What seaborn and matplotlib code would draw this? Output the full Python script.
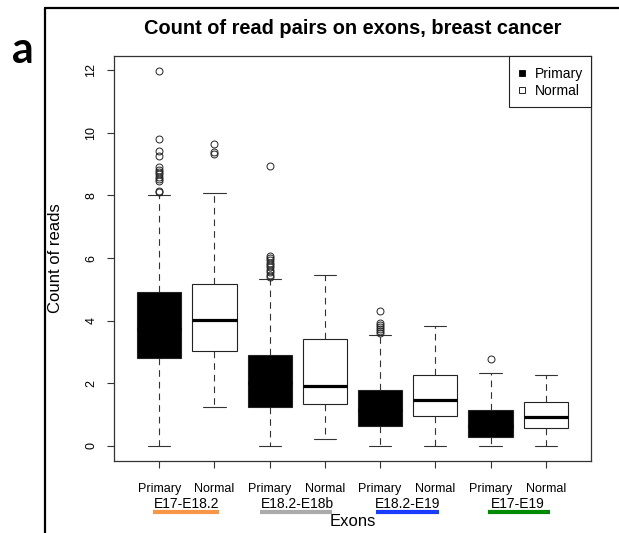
import matplotlib
matplotlib.use("Agg")
import matplotlib.pyplot as plt
import matplotlib.transforms as mtransforms
from matplotlib.lines import Line2D
from matplotlib.patches import Rectangle
import seaborn as sns

# ---------------- data ----------------
groups = ["E17-E18.2", "E18.2-E18b", "E18.2-E19", "E17-E19"]
conditions = ["Primary", "Normal"]
q1 = [2.80, 3.04, 1.26, 1.33, 0.63, 0.95, 0.29, 0.59]
medians = [3.75, 4.02, 2.00, 1.90, 1.15, 1.46, 0.65, 0.92]
q3 = [4.91, 5.18, 2.89, 3.43, 1.80, 2.28, 1.15, 1.42]
whisker_low = [0.00, 1.26, 0.00, 0.22, 0.00, 0.00, 0.00, 0.00]
whisker_high = [8.00, 8.08, 5.33, 5.47, 3.53, 3.82, 2.34, 2.26]
outliers = [
    [11.97, 9.79, 9.42, 9.25, 8.90, 8.82, 8.75, 8.68, 8.60, 8.52, 8.45, 8.15, 8.10],
    [9.63, 9.38, 9.31],
    [8.95, 6.08, 6.01, 5.93, 5.85, 5.78, 5.70, 5.62, 5.55, 5.47, 5.40],
    [],
    [4.30, 3.92, 3.85, 3.79, 3.72, 3.66, 3.60],
    [],
    [2.77],
    [],
]
y_ticks = [0, 2, 4, 6, 8, 10, 12]

# ---------------- style ----------------
sns.set_style("white")
plt.rcParams["font.family"] = ["Liberation Sans", "DejaVu Sans"]
plt.rcParams["text.color"] = "black"
plt.rcParams["axes.labelcolor"] = "black"
plt.rcParams["xtick.color"] = "black"
plt.rcParams["ytick.color"] = "black"

group_colors = ["#F79646", "#ABABAB", "#1A3CFF", "#008A00"]
underline_half = [0.60, 0.65, 0.57, 0.56]
underline_shift = [-0.02, -0.03, 0.0, 0.01]

W, H = 619, 533
fig = plt.figure(figsize=(W / 100, H / 100), dpi=100)
ax = fig.add_axes([114 / W, (H - 461) / H, (591 - 114) / W, (461 - 56) / H])

stats = []
labels = []
for i in range(len(q1)):
    stats.append(dict(med=medians[i], q1=q1[i], q3=q3[i],
                      whislo=whisker_low[i], whishi=whisker_high[i],
                      fliers=outliers[i]))
    labels.append(conditions[i % 2])

positions = list(range(1, len(stats) + 1))
bp = ax.bxp(stats, positions=positions, widths=0.8, capwidths=0.4,
            patch_artist=True, showfliers=True,
            boxprops=dict(edgecolor="#222222", linewidth=0.8),
            medianprops=dict(color="black", linewidth=2.3, solid_capstyle="butt"),
            whiskerprops=dict(color="#333333", linewidth=0.8, linestyle=(0, (6, 4.5))),
            capprops=dict(color="#333333", linewidth=0.8),
            flierprops=dict(marker="o", markerfacecolor="none", markeredgecolor="#222222",
                            markersize=5, markeredgewidth=0.7))
for i, patch in enumerate(bp["boxes"]):
    patch.set_facecolor("black" if i % 2 == 0 else "white")

ax.set_xlim(0.18, 8.82)
ax.set_ylim(-0.479, 12.449)
ax.set_xticks(positions)
ax.set_xticklabels(labels, fontsize=9)
ax.set_yticks(y_ticks)
ax.set_yticklabels([str(t) for t in y_ticks], fontsize=9, rotation=90, va="center")
ax.tick_params(axis="both", direction="out", length=5, width=0.8, color="#333333",
               left=True, bottom=True)
ax.tick_params(axis="x", pad=10.5)
ax.tick_params(axis="y", pad=7)
for s in ax.spines.values():
    s.set_color("#333333")
    s.set_linewidth(0.9)

# group labels and coloured underlines
trans = mtransforms.blended_transform_factory(ax.transData, ax.transAxes)
for g, name in enumerate(groups):
    c = 2 * g + 1.5
    ax.text(c, -0.116, name, transform=trans, ha="center", va="baseline", fontsize=10)
    cc = c + underline_shift[g]
    ax.plot([cc - underline_half[g], cc + underline_half[g]], [-0.126, -0.126],
            transform=trans, color=group_colors[g], lw=3, solid_capstyle="butt",
            clip_on=False)
ax.text(4.5, -0.1593, "Exons", transform=trans, ha="center", va="baseline", fontsize=12)

# y label and title
fig.text(55 / W, (H - 258) / H, "Count of reads", rotation=90, ha="center",
         va="center", fontsize=12)
fig.text(353 / W, (H - 33.5) / H, "Count of read pairs on exons, breast cancer",
         ha="center", va="baseline", fontsize=14.4, fontweight="bold")

# legend (frame drawn separately to match the reference padding)
handles = [
    Line2D([], [], linestyle="None", marker="s", markersize=4.5,
           markerfacecolor="black", markeredgecolor="black", markeredgewidth=0.6),
    Line2D([], [], linestyle="None", marker="s", markersize=4.5,
           markerfacecolor="white", markeredgecolor="black", markeredgewidth=0.6),
]
ax_w, ax_h = 591 - 114, 461 - 56
leg = ax.legend(handles, conditions, loc="upper left",
                bbox_to_anchor=((516.5 - 114) / ax_w, 1 - (67 - 56) / ax_h),
                borderaxespad=0, borderpad=0, frameon=False, fontsize=10,
                handlelength=0.8, handletextpad=0.55, labelspacing=0.2)
ax.add_patch(Rectangle(((509 - 114) / ax_w, 1 - (107 - 56) / ax_h),
                       (591 - 509) / ax_w, (107 - 56) / ax_h, transform=ax.transAxes,
                       fill=True, facecolor="white", edgecolor="#222222", lw=0.8,
                       zorder=4, clip_on=False))
leg.set_zorder(5)

# panel letter and outer frame
fig.text(12 / W, (H - 63) / H, "a", family=["Lato", "DejaVu Sans"], fontweight="bold",
         fontsize=31, ha="left", va="baseline")
fig.add_artist(Line2D([45 / W, 1.0], [(H - 8) / H, (H - 8) / H],
                      transform=fig.transFigure, color="black", lw=1.6))
fig.add_artist(Line2D([45 / W, 45 / W], [0.0, (H - 8) / H],
                      transform=fig.transFigure, color="black", lw=1.6))

fig.savefig("out.png", dpi=100)
